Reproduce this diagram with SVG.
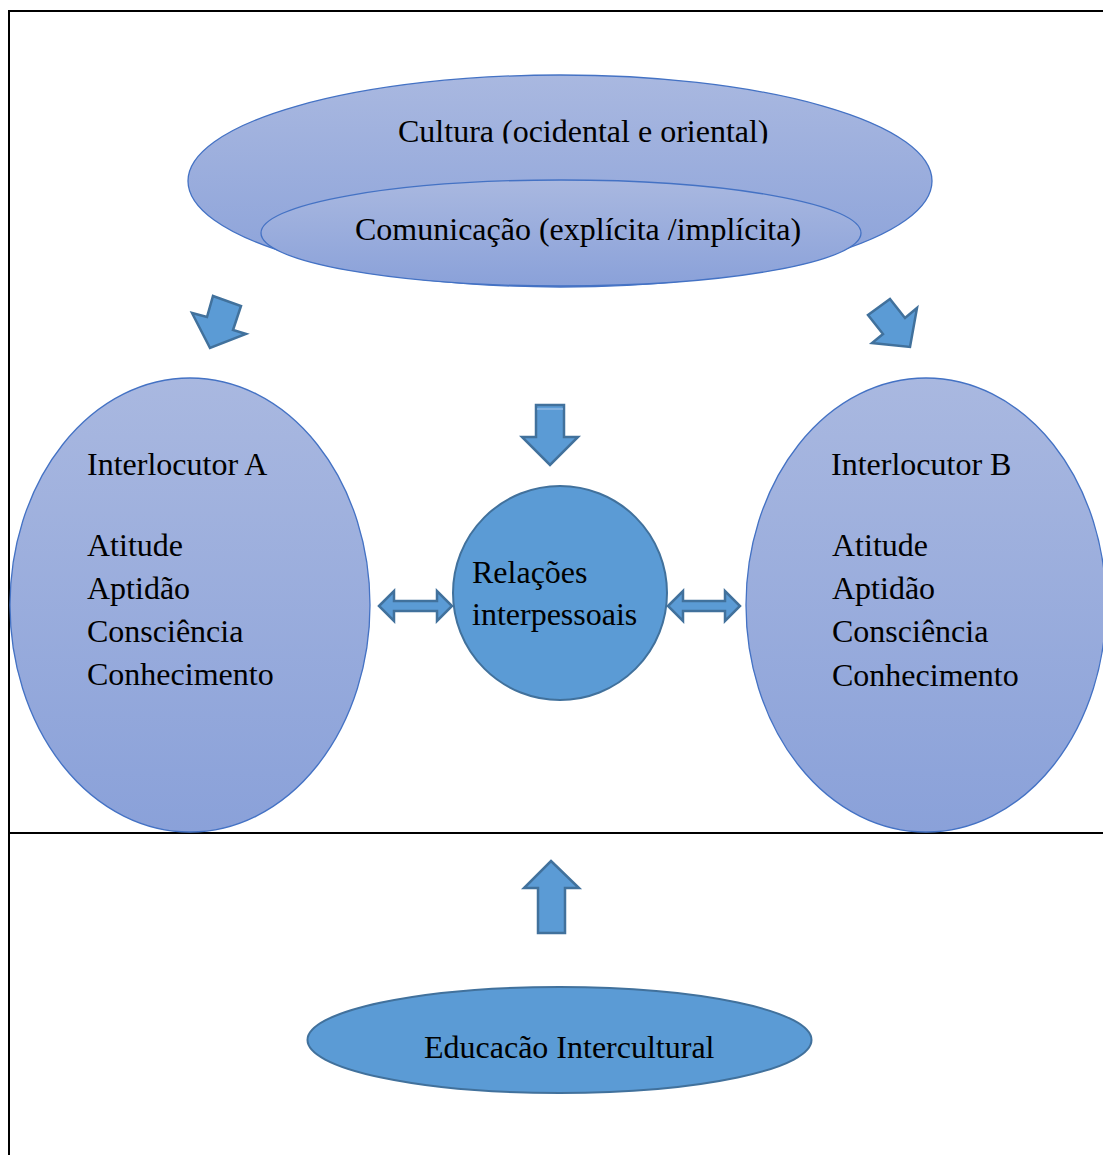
<svg xmlns="http://www.w3.org/2000/svg" width="1103" height="1155" viewBox="0 0 1103 1155">
  <defs>
    <linearGradient id="lav" x1="0" y1="0" x2="0" y2="1">
      <stop offset="0" stop-color="#a9b8e0"/>
      <stop offset="1" stop-color="#8aa1d9"/>
    </linearGradient>
    <clipPath id="clipTop">
      <rect x="0" y="0" width="1103" height="143.5"/>
    </clipPath>
    <style>
      .lav { fill: url(#lav); stroke: #4472c4; stroke-width: 1.3; }
      .blue { fill: #5b9bd5; stroke: #41719c; stroke-width: 2; }
      .arrow { fill: #5b9bd5; stroke: #41719c; stroke-width: 2.5; stroke-linejoin: miter; }
      .txt { font-family: "Liberation Serif", "Times New Roman", serif; font-size: 32px; fill: #000; }
      .frame { stroke: #000; stroke-width: 2; fill: none; }
    </style>
  </defs>
  <rect width="1103" height="1155" fill="#fff"/>

  <g id="frame">
    <line class="frame" x1="8" y1="11" x2="1103" y2="11"/>
    <line class="frame" x1="9" y1="10" x2="9" y2="1155"/>
    <line class="frame" x1="9" y1="833" x2="1103" y2="833"/>
  </g>

  <g id="cultura">
    <ellipse class="lav" cx="560" cy="181" rx="372" ry="106"/>
    <text class="txt" x="398" y="142" clip-path="url(#clipTop)">Cultura (ocidental e oriental)</text>
  </g>

  <g id="comunicacao">
    <ellipse class="lav" cx="561" cy="233" rx="300" ry="53"/>
    <text class="txt" x="355" y="240">Comunicação (explícita /implícita)</text>
  </g>

  <g id="interlocutorA">
    <ellipse class="lav" cx="190" cy="605" rx="180" ry="227"/>
    <text class="txt" x="87" y="475">Interlocutor A</text>
    <text class="txt" x="87" y="556">Atitude</text>
    <text class="txt" x="87" y="599">Aptidão</text>
    <text class="txt" x="87" y="642">Consciência</text>
    <text class="txt" x="87" y="685">Conhecimento</text>
  </g>

  <g id="interlocutorB">
    <ellipse class="lav" cx="926" cy="605" rx="180" ry="227"/>
    <text class="txt" x="831" y="475">Interlocutor B</text>
    <text class="txt" x="832" y="556">Atitude</text>
    <text class="txt" x="832" y="599">Aptidão</text>
    <text class="txt" x="832" y="642">Consciência</text>
    <text class="txt" x="832" y="686">Conhecimento</text>
  </g>

  <g id="relacoes">
    <circle class="blue" cx="560" cy="593" r="107"/>
    <text class="txt" x="472" y="583">Relações</text>
    <text class="txt" x="472" y="625">interpessoais</text>
  </g>

  <g id="educacao">
    <ellipse class="blue" cx="559.5" cy="1040" rx="252" ry="53"/>
    <text class="txt" x="424" y="1058">Educacão Intercultural</text>
  </g>

  <g id="connectors">
    <polygon class="arrow" points="213,296 241,306 233,330 246,334 210,348 192,313 207,317"/>
    <polygon class="arrow" points="890,299 905,318 917,308 910,347 872,343 883,334 868,315"/>
    <polygon class="arrow" points="536,405 564,405 564,437 578,437 550,465 522,437 536,437"/>
    <line x1="537" y1="409" x2="563" y2="409" stroke="#8fb8e3" stroke-width="1.5"/>
    <polygon class="arrow" points="379,606 394,591 394,601 437,601 437,591 452,606 437,621 437,611 394,611 394,621"/>
    <polygon class="arrow" points="668,606 683,591 683,601 725,601 725,591 740,606 725,621 725,611 683,611 683,621"/>
    <polygon class="arrow" points="551,861 579,888 565,888 565,933 538,933 538,888 524,888"/>
  </g>
</svg>
